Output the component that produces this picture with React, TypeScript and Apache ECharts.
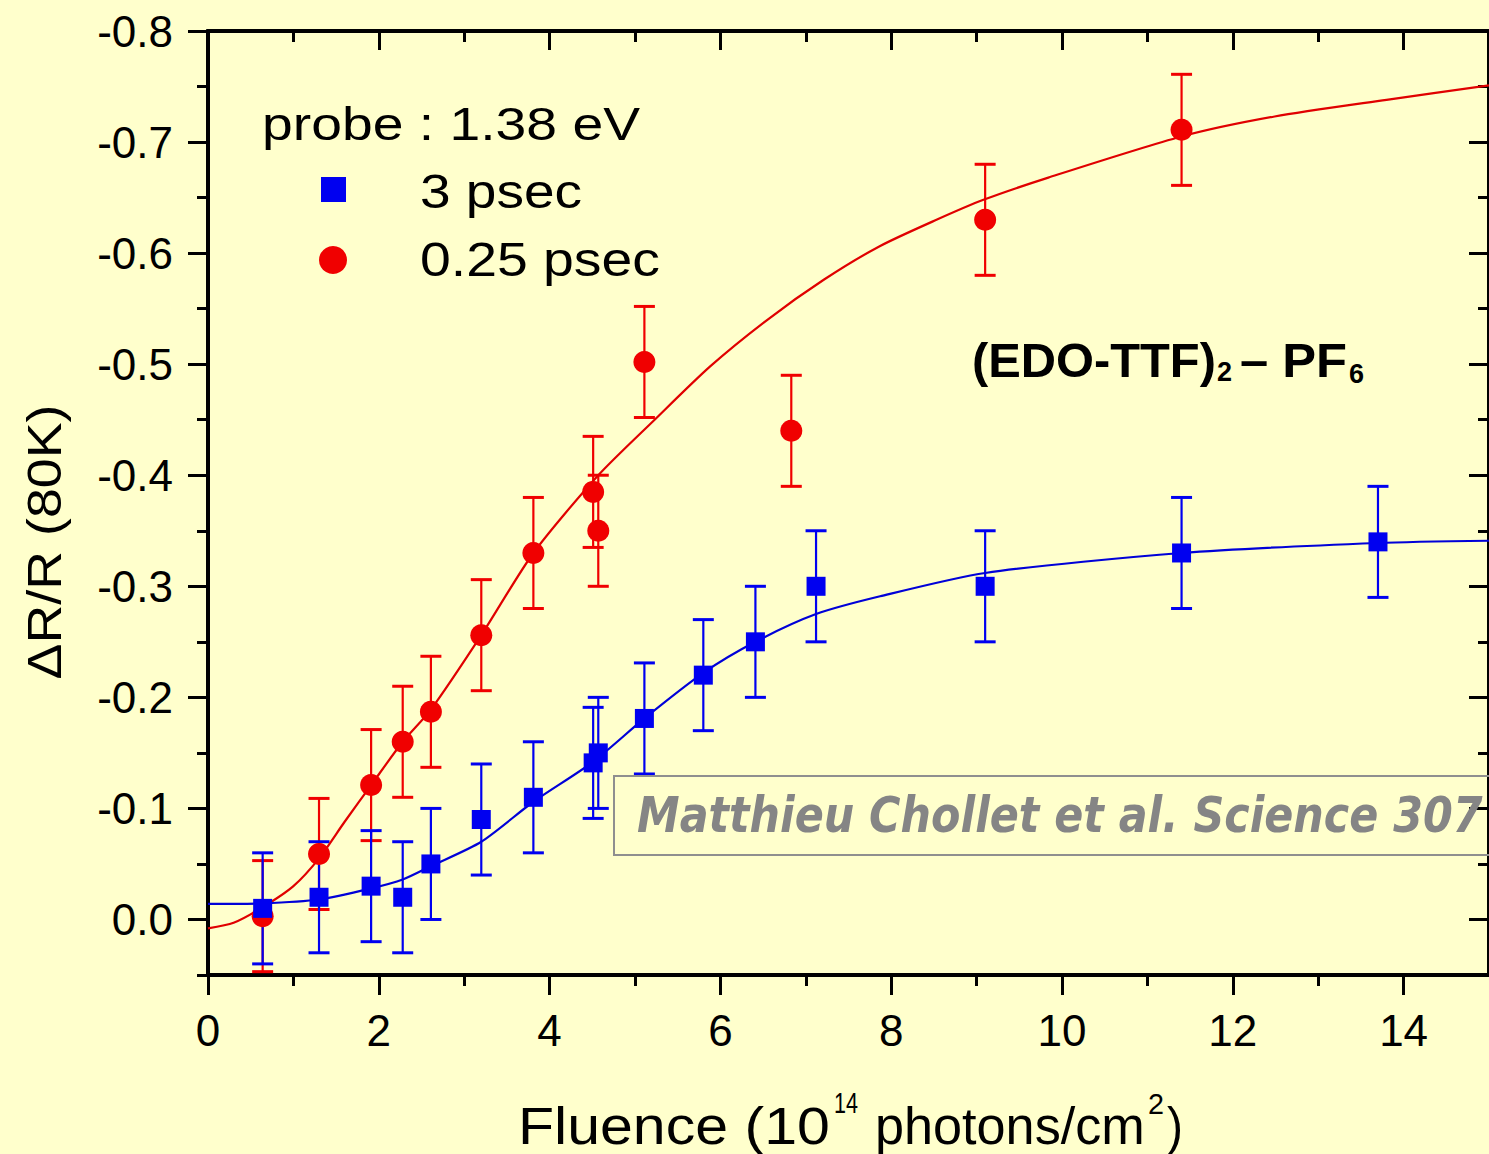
import React, { useEffect, useRef } from "react";
import * as echarts from "echarts";

// ---------- data ----------
const redX = [0.64, 1.3, 1.91, 2.28, 2.61, 3.2, 3.81, 4.51, 4.57, 5.11, 6.83, 9.1, 11.4];
const redY = [-0.003, -0.059, -0.121, -0.16, -0.187, -0.256, -0.33, -0.385, -0.35, -0.502, -0.44, -0.63, -0.711];
const redErr = [0.05, 0.05, 0.05, 0.05, 0.05, 0.05, 0.05, 0.05, 0.05, 0.05, 0.05, 0.05, 0.05];

const blueX = [0.64, 1.3, 1.91, 2.28, 2.61, 3.2, 3.81, 4.51, 4.57, 5.11, 5.8, 6.41, 7.12, 9.1, 11.4, 13.7];
const blueY = [-0.01, -0.02, -0.03, -0.02, -0.05, -0.09, -0.11, -0.141, -0.15, -0.181, -0.22, -0.25, -0.3, -0.3, -0.33, -0.34];
const blueErr = [0.05, 0.05, 0.05, 0.05, 0.05, 0.05, 0.05, 0.05, 0.05, 0.05, 0.05, 0.05, 0.05, 0.05, 0.05, 0.05];

const redFitX = [0, 0.3, 0.64, 1.0, 1.3, 1.6, 1.91, 2.28, 2.61, 3.2, 3.81, 4.57, 5.23, 5.88, 6.55, 7.21, 7.86, 8.53, 9.08, 9.84, 11.4, 12.49, 13.8, 15.0];
const redFitY = [0.008, 0.003, -0.011, -0.03, -0.055, -0.088, -0.121, -0.16, -0.189, -0.256, -0.33, -0.4, -0.45, -0.498, -0.54, -0.576, -0.606, -0.63, -0.648, -0.668, -0.705, -0.723, -0.738, -0.751];

const blueFitX = [0, 0.64, 1.3, 1.91, 2.28, 2.61, 3.2, 3.81, 4.51, 5.11, 5.8, 6.41, 7.12, 7.87, 9.1, 11.4, 13.7, 15.0];
const blueFitY = [-0.014, -0.0145, -0.018, -0.028, -0.036, -0.048, -0.07, -0.106, -0.142, -0.181, -0.222, -0.25, -0.275, -0.291, -0.312, -0.33, -0.339, -0.341];

const xMajorTicks = [0, 2, 4, 6, 8, 10, 12, 14];
const xMinorTicks = [1, 3, 5, 7, 9, 11, 13];
const yMajorTicks = [-0.8, -0.7, -0.6, -0.5, -0.4, -0.3, -0.2, -0.1, 0.0];
const yMinorTicks = [-0.75, -0.65, -0.55, -0.45, -0.35, -0.25, -0.15, -0.05, 0.05];

const X_MIN = 0;
const X_MAX = 15;
const Y_MIN = -0.8;
const Y_MAX = 0.05;

// ---------- styles ----------
const FONT = '"Liberation Sans", Arial, Helvetica, sans-serif';
const WM_FONT = '"DejaVu Sans Condensed", "DejaVu Sans", sans-serif';
const BG = "#ffffcc";
const RED = "#f00000";
const RED_LINE = "#e00000";
const BLUE = "#0000f0";
const BLUE_LINE = "#0000d8";

function fitScale(text: string, font: string, target: number): number {
  const c = document.createElement("canvas").getContext("2d");
  if (!c) return 1;
  c.font = font;
  const w = c.measureText(text).width;
  return w > 0 ? target / w : 1;
}

function errorSeries(xs: number[], ys: number[], es: number[], color: string, z: number) {
  return {
    type: "custom",
    xAxisIndex: 0,
    yAxisIndex: 0,
    z,
    silent: true,
    data: xs.map((x, i) => [x, ys[i], ys[i] - es[i], ys[i] + es[i]]),
    renderItem: (params: any, api: any) => {
      const x = api.value(0);
      const lo = api.coord([x, api.value(2)]);
      const hi = api.coord([x, api.value(3)]);
      const hw = 10.5;
      return {
        type: "group",
        children: [
          { type: "line", shape: { x1: lo[0], y1: lo[1], x2: hi[0], y2: hi[1] }, style: { stroke: color, lineWidth: 2.2 } },
          { type: "line", shape: { x1: lo[0] - hw, y1: lo[1], x2: lo[0] + hw, y2: lo[1] }, style: { stroke: color, lineWidth: 3 } },
          { type: "line", shape: { x1: hi[0] - hw, y1: hi[1], x2: hi[0] + hw, y2: hi[1] }, style: { stroke: color, lineWidth: 3 } },
        ],
      };
    },
  };
}

function txt(text: string, x: number, y: number, size: number, target: number | null, opts: any = {}) {
  const weight = opts.weight || "normal";
  const style = opts.fontStyle || "normal";
  const family = opts.family || FONT;
  const font = `${style} ${weight} ${size}px ${family}`;
  const sx = target ? fitScale(text, font, target) : 1;
  return {
    type: "text",
    x,
    y,
    scaleX: sx,
    rotation: opts.rotation || 0,
    z: 100,
    style: {
      text,
      fontSize: size,
      fontFamily: family,
      fontWeight: weight,
      fontStyle: style,
      fill: opts.color || "#000",
      align: opts.align || "left",
      verticalAlign: "middle",
    },
  };
}

export default function App() {
  const ref = useRef<HTMLDivElement>(null);

  useEffect(() => {
    if (!ref.current) return;
    const chart = echarts.init(ref.current, null, { renderer: "svg" });

    const axisLine = { show: true, onZero: false, lineStyle: { color: "#000", width: 4 } };
    const tickStyle = { color: "#000", width: 3 };
    const xBase = { type: "value", min: X_MIN, max: X_MAX, axisLine, splitLine: { show: false }, minorTick: { show: false } };
    const yBase = { type: "value", min: Y_MIN, max: Y_MAX, inverse: true, axisLine, splitLine: { show: false }, minorTick: { show: false } };
    const noLabel = { show: false };

    const option: any = {
      animation: false,
      backgroundColor: BG,
      grid: { left: 208, top: 31, bottom: 179, right: -7, containLabel: false },
      xAxis: [
        {
          ...xBase,
          position: "bottom",
          axisTick: { show: true, inside: false, length: 20, lineStyle: tickStyle, customValues: xMajorTicks },
          axisLabel: {
            show: true,
            customValues: xMajorTicks,
            formatter: (v: number) => String(v),
            fontSize: 44,
            fontFamily: FONT,
            color: "#000",
            margin: 33,
          },
        },
        { ...xBase, position: "bottom", axisTick: { show: true, inside: false, length: 11, lineStyle: tickStyle, customValues: xMinorTicks }, axisLabel: noLabel },
        { ...xBase, position: "top", axisTick: { show: true, inside: true, length: 19, lineStyle: tickStyle, customValues: xMajorTicks }, axisLabel: noLabel },
        { ...xBase, position: "top", axisTick: { show: true, inside: true, length: 11, lineStyle: tickStyle, customValues: xMinorTicks }, axisLabel: noLabel },
      ],
      yAxis: [
        {
          ...yBase,
          position: "left",
          axisTick: { show: true, inside: false, length: 20, lineStyle: tickStyle, customValues: yMajorTicks },
          axisLabel: {
            show: true,
            customValues: yMajorTicks,
            formatter: (v: number) => (Math.abs(v) < 1e-9 ? "0.0" : v.toFixed(1)),
            fontSize: 44,
            fontFamily: FONT,
            color: "#000",
            margin: 35,
          },
        },
        { ...yBase, position: "left", axisTick: { show: true, inside: false, length: 11, lineStyle: tickStyle, customValues: yMinorTicks }, axisLabel: noLabel },
        { ...yBase, position: "right", axisTick: { show: true, inside: true, length: 20, lineStyle: tickStyle, customValues: yMajorTicks }, axisLabel: noLabel },
        { ...yBase, position: "right", axisTick: { show: true, inside: true, length: 11, lineStyle: tickStyle, customValues: yMinorTicks }, axisLabel: noLabel },
      ],
      series: [
        errorSeries(redX, redY, redErr, RED, 2),
        errorSeries(blueX, blueY, blueErr, BLUE, 3),
        {
          type: "line",
          name: "0.25 psec fit",
          xAxisIndex: 0,
          yAxisIndex: 0,
          z: 4,
          data: redFitX.map((x, i) => [x, redFitY[i]]),
          showSymbol: false,
          smooth: 0.25,
          lineStyle: { color: RED_LINE, width: 2.2 },
          silent: true,
        },
        {
          type: "scatter",
          name: "0.25 psec",
          xAxisIndex: 0,
          yAxisIndex: 0,
          z: 5,
          symbol: "circle",
          symbolSize: 22,
          itemStyle: { color: RED, opacity: 1 },
          data: redX.map((x, i) => [x, redY[i]]),
        },
        {
          type: "line",
          name: "3 psec fit",
          xAxisIndex: 0,
          yAxisIndex: 0,
          z: 6,
          data: blueFitX.map((x, i) => [x, blueFitY[i]]),
          showSymbol: false,
          smooth: 0.25,
          lineStyle: { color: BLUE_LINE, width: 2.2 },
          silent: true,
        },
        {
          type: "scatter",
          name: "3 psec",
          xAxisIndex: 0,
          yAxisIndex: 0,
          z: 7,
          symbol: "rect",
          symbolSize: 19,
          itemStyle: { color: BLUE, opacity: 1 },
          data: blueX.map((x, i) => [x, blueY[i]]),
        },
      ],
      graphic: [
        // y-axis title
        txt("ΔR/R (80K)", 45, 542, 48, 275, { align: "center", rotation: Math.PI / 2 }),
        // x-axis title with superscripts
        txt("Fluence (10", 518, 1126, 52, 312),
        txt("14", 834, 1103, 30, 24),
        txt("photons/cm", 875, 1126, 52, 270),
        txt("2", 1148, 1103, 30, 16),
        txt(")", 1167, 1126, 52, 16),
        // legend
        txt("probe : 1.38 eV", 262, 124, 46, 378),
        {
          type: "rect",
          z: 100,
          shape: { x: 321, y: 177, width: 25, height: 25 },
          style: { fill: BLUE },
        },
        txt("3 psec", 420, 191, 48, 162),
        {
          type: "circle",
          z: 100,
          shape: { cx: 333, cy: 260, r: 14 },
          style: { fill: RED },
        },
        txt("0.25 psec", 420, 259, 48, 240),
        // compound label
        txt("(EDO-TTF)", 972, 360, 48, 244, { weight: "bold" }),
        txt("2", 1217, 372, 27, null, { weight: "bold" }),
        txt("– PF", 1240, 360, 48, 107, { weight: "bold" }),
        txt("6", 1349, 374, 27, null, { weight: "bold" }),
        // citation box
        {
          type: "rect",
          z: 90,
          shape: { x: 614, y: 776, width: 900, height: 79 },
          style: { fill: "none", stroke: "#8f8f8f", lineWidth: 2 },
        },
        txt("Matthieu Chollet et al. Science 307", 637, 815, 49, 846, {
          weight: "bold",
          fontStyle: "italic",
          family: WM_FONT,
          color: "#858585",
        }),
      ],
    };

    chart.setOption(option);
    return () => chart.dispose();
  }, []);

  return <div ref={ref} style={{ position: "absolute", left: 0, top: 0, width: 1489, height: 1154 }} />;
}
